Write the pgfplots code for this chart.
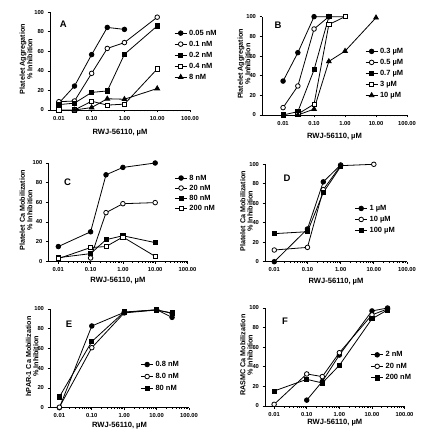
\documentclass[border=0pt]{standalone}
\usepackage{fontspec}
\setmainfont{Liberation Sans}
\usepackage{pgfplots}
\pgfplotsset{compat=1.18}
\newcommand{\tickf}{\fontsize{5.8}{6}\selectfont\bfseries}
\newcommand{\legf}{\fontsize{7.5}{8}\selectfont\bfseries}
\newcommand{\labf}{\fontsize{7.6}{8}\selectfont\bfseries}
\newcommand{\ylabf}{\fontsize{7.2}{7.4}\selectfont\bfseries}
\newcommand{\letf}{\fontsize{9.5}{10}\selectfont\bfseries}
\tikzset{
 fc/.style={mark=*, mark size=2.3pt, mark options={fill=black}},
 oc/.style={mark=*, mark size=2.3pt, mark options={fill=white}},
 fs/.style={mark=square*, mark size=2.1pt, mark options={fill=black}},
 os/.style={mark=square*, mark size=2.1pt, mark options={fill=white}},
 ft/.style={mark=triangle*, mark size=2.7pt, mark options={fill=black}},
}
\pgfplotsset{
 panel/.style={
  scale only axis, axis lines=left, axis line style={-, line width=0.7pt},
  xmax=100, ymin=0, ymax=100,
  xtick={0.01,0.1,1,10,100}, xticklabels={0.01,0.10,1.00,10.00,100.00},
  ytick={0,20,40,60,80,100}, yticklabels={0,20,40,60,80,100},
  tick align=outside, major tick length=2.5pt, minor tick length=1.5pt,
  tick style={black, line width=0.7pt},
  ticklabel style={font=\tickf},
  clip=false,
  every axis plot/.append style={black, line width=0.8pt},
  legend style={draw=none, fill=none, anchor=north west, font=\legf,
    nodes={inner sep=0pt, text height=5pt, text depth=1pt},
    /tikz/every odd column/.append style={column sep=2pt}},
  legend cell align=left,
  legend image code/.code={\draw[mark repeat=2,mark phase=2,##1] plot coordinates {(0pt,0pt) (6pt,0pt) (12pt,0pt)};},
  xlabel={RWJ-56110, µM},
 },
 xlabpos/.style={every axis x label/.style={at={(axis description cs:0.5,0)}, anchor=center, yshift=#1, font=\labf}},
 ylabpos/.style={every axis y label/.style={at={(axis description cs:#1,0.52)}, rotate=90, anchor=center, align=center, font=\ylabf}},
 legpos/.style n args={3}{legend style={at={(axis description cs:#1,#2)}, row sep=#3}},
}
\begin{document}
\begin{tikzpicture}
\useasboundingbox (0,0) rectangle (430pt,441pt);
% ---------- A ----------
\begin{semilogxaxis}[panel, at={(50pt,331pt)}, anchor=south west, width=140pt, height=97.7pt,
  xmin=0.00537, ylabpos=-0.171, ylabel={Platelet Aggregation\\\% Inhibition}, xlabpos=-23pt,
  legpos={0.865}{0.84}{5pt}]
\addplot[fc] coordinates {(0.01,7) (0.03,24.5) (0.1,56.7) (0.3,84.5) (1,82.5)};
\addlegendentry{0.05 nM}
\addplot[oc] coordinates {(0.01,8.5) (0.03,9.2) (0.1,37.5) (0.3,63) (1,69) (10,95)};
\addlegendentry{0.1 nM}
\addplot[fs] coordinates {(0.01,5.5) (0.03,7) (0.1,18) (0.3,19.5) (1,57) (10,86)};
\addlegendentry{0.2 nM}
\addplot[os] coordinates {(0.01,0) (0.03,0) (0.1,9) (0.3,5) (1,6) (10,42)};
\addlegendentry{0.4 nM}
\addplot[ft] coordinates {(0.03,0) (0.1,2.5) (0.3,11.5) (1,11) (10,22)};
\addlegendentry{8 nM}
\node[font=\letf] at (rel axis cs:0.095,0.877) {A};
\end{semilogxaxis}
% ---------- B ----------
\begin{semilogxaxis}[panel, at={(262pt,326pt)}, anchor=south west, width=145pt, height=98.3pt,
  xmin=0.00209, ylabpos=-0.124, ylabel={Platelet Aggregation\\\% Inhibition}, xlabpos=-22pt,
  legpos={0.69}{0.70}{5pt}]
\addplot[fc] coordinates {(0.01,34.5) (0.03,63.4) (0.1,100) (0.3,100)};
\addlegendentry{0.3 µM}
\addplot[oc] coordinates {(0.01,7.5) (0.03,29.5) (0.1,87.5) (0.3,100)};
\addlegendentry{0.5 µM}
\addplot[fs] coordinates {(0.01,0) (0.03,3.4) (0.1,46) (0.3,100) (1,100)};
\addlegendentry{0.7 µM}
\addplot[os] coordinates {(0.03,1) (0.1,11) (0.3,92) (1,100)};
\addlegendentry{3 µM}
\addplot[ft] coordinates {(0.03,0) (0.1,6) (0.3,54.5) (1,65) (10,99)};
\addlegendentry{10 µM}
\node[font=\letf] at (rel axis cs:0.11,0.915) {B};
\end{semilogxaxis}
% ---------- C ----------
\begin{semilogxaxis}[panel, at={(48.3pt,179.7pt)}, anchor=south west, width=139.2pt, height=98.3pt,
  xmin=0.0049, ylabpos=-0.16, ylabel={Platelet Ca Mobilization\\\% Inhibition}, xlabpos=-19.5pt,
  legpos={0.885}{0.90}{4pt}]
\addplot[fc] coordinates {(0.01,15) (0.1,30) (0.3,88) (1,95.5) (10,100)};
\addlegendentry{8 nM}
\addplot[oc] coordinates {(0.1,3.4) (0.3,49.5) (1,58.6) (10,59.7)};
\addlegendentry{20 nM}
\addplot[fs] coordinates {(0.01,3.7) (0.1,7.8) (0.3,22) (1,26) (10,19)};
\addlegendentry{80 nM}
\addplot[os] coordinates {(0.01,2.7) (0.1,14) (0.3,15) (1,24.7) (10,5)};
\addlegendentry{200 nM}
\node[font=\letf] at (rel axis cs:0.138,0.80) {C};
\end{semilogxaxis}
% ---------- D ----------
\begin{semilogxaxis}[panel, at={(265pt,179.3pt)}, anchor=south west, width=142pt, height=97.4pt,
  xmin=0.00525, ylabpos=-0.131, ylabel={Platelet Ca Mobilization\\\% Inhibition}, xlabpos=-20pt,
  legpos={0.61}{0.60}{5pt}]
\addplot[fc] coordinates {(0.01,0) (0.1,33.6) (0.3,82) (1,99.3)};
\addlegendentry{1 µM}
\addplot[oc] coordinates {(0.01,12) (0.1,14.7) (0.3,74) (1,98.6) (10,100)};
\addlegendentry{10 µM}
\addplot[fs] coordinates {(0.01,28.8) (0.1,30.8) (0.3,71) (1,97.6)};
\addlegendentry{100 µM}
\node[font=\letf] at (rel axis cs:0.155,0.854) {D};
\end{semilogxaxis}
% ---------- E ----------
\begin{semilogxaxis}[panel, at={(50pt,33.3pt)}, anchor=south west, width=139pt, height=98.7pt,
  xmin=0.00513, ylabpos=-0.128, ylabel={hPAR-1 Ca Mobilization\\\% Inhibition}, xlabpos=-18pt,
  legpos={0.63}{0.49}{6pt}]
\addplot[fc] coordinates {(0.01,0) (0.1,82.8) (1,96.6) (10,99.3) (30,91.5)};
\addlegendentry{0.8 nM}
\addplot[oc] coordinates {(0.01,0.5) (0.1,60.8) (1,96) (10,99) (30,95.6)};
\addlegendentry{8.0 nM}
\addplot[fs] coordinates {(0.01,11) (0.1,67) (1,97) (10,99) (30,96)};
\addlegendentry{80 nM}
\node[font=\letf] at (rel axis cs:0.137,0.848) {E};
\end{semilogxaxis}
% ---------- F ----------
\begin{semilogxaxis}[panel, at={(265pt,35pt)}, anchor=south west, width=139.6pt, height=98pt,
  xmin=0.00525, ylabpos=-0.133, ylabel={RASMC Ca Mobilization\\\% Inhibition}, xlabpos=-17pt,
  legpos={0.735}{0.575}{5.5pt}]
\addplot[fc] coordinates {(0.1,6) (0.3,25) (1,52) (10,97) (30,100)};
\addlegendentry{2 nM}
\addplot[oc] coordinates {(0.01,1.7) (0.1,32.7) (0.3,30) (1,54.4) (10,93) (30,99)};
\addlegendentry{20 nM}
\addplot[fs] coordinates {(0.01,15.3) (0.1,27.2) (0.3,23.5) (1,41.5) (10,89) (30,98)};
\addlegendentry{200 nM}
\node[font=\letf] at (rel axis cs:0.143,0.867) {F};
\end{semilogxaxis}
\end{tikzpicture}
\end{document}
